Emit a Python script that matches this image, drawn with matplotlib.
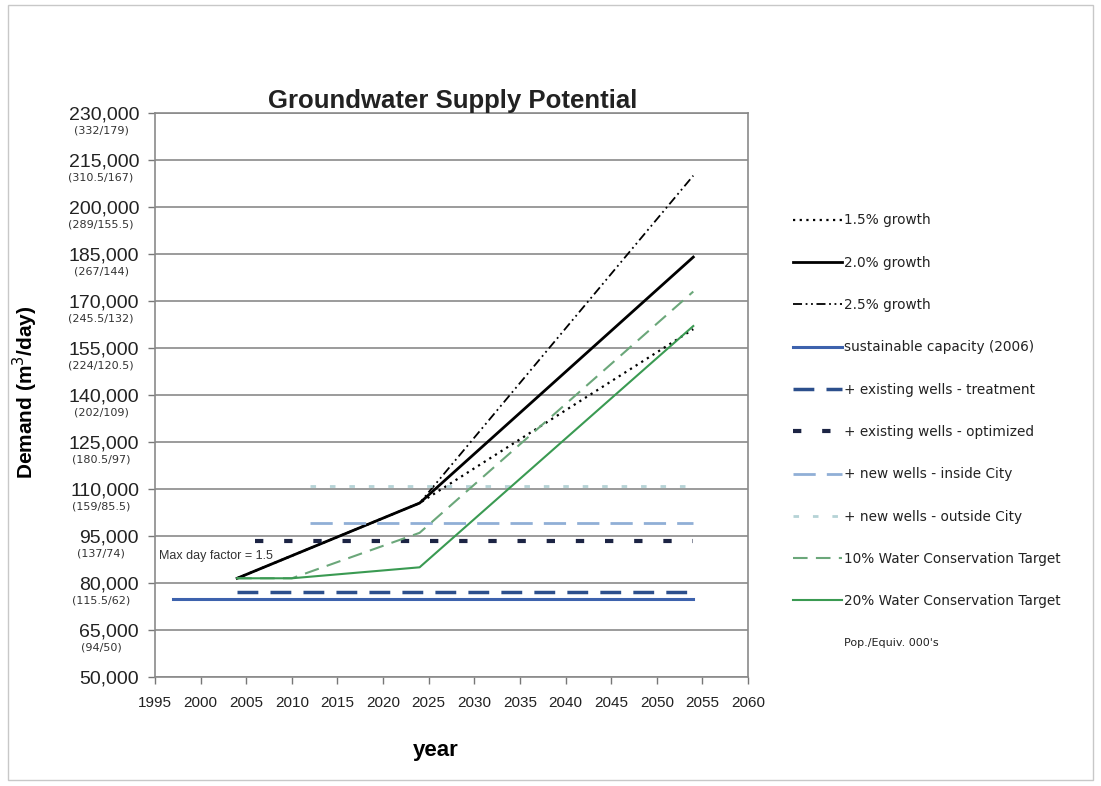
import matplotlib.pyplot as plt
from matplotlib.lines import Line2D
from matplotlib.patches import Rectangle

plt.rcParams['font.family'] = ['Liberation Sans', 'DejaVu Sans']

# growth scenarios (year, m3/day)
growth_years = [2004, 2024, 2054]
growth_15 = [81500, 105500, 161000]
growth_20 = [81500, 105500, 184000]
growth_25 = [81500, 105500, 210000]

# conservation targets
cons_years = [2004, 2010, 2024, 2054]
cons_10 = [81500, 81500, 96000, 173000]
cons_20 = [81500, 81500, 85000, 162000]

# supply levels: (start year, end year, m3/day)
sustainable = (1997, 2054, 75000)
wells_treatment = (2004, 2054, 77000)
wells_optimized = (2006, 2054, 93500)
wells_inside = (2012, 2054, 99000)
wells_outside = (2012, 2054, 111000)

y_ticks = [50000, 65000, 80000, 95000, 110000, 125000, 140000, 155000,
           170000, 185000, 200000, 215000, 230000]
pop_labels = ['', '(94/50)', '(115.5/62)', '(137/74)', '(159/85.5)', '(180.5/97)',
              '(202/109)', '(224/120.5)', '(245.5/132)', '(267/144)',
              '(289/155.5)', '(310.5/167)', '(332/179)']
x_ticks = list(range(1995, 2061, 5))

fig = plt.figure(figsize=(11.01, 7.86), dpi=100)
ax = fig.add_axes([0.1408, 0.1387, 0.5386, 0.7176])

ax.plot(growth_years, growth_15, color='black', lw=1.6, ls=(0, (1, 2)), label='1.5% growth')
ax.plot(growth_years, growth_20, color='black', lw=2.0, ls='-', label='2.0% growth')
ax.plot(growth_years, growth_25, color='black', lw=1.3, ls=(0, (5, 2, 1, 2, 1, 2)), label='2.5% growth')

x0, x1, v = sustainable
ax.plot([x0, x1], [v, v], color='#3d62ad', lw=2.2, label='sustainable capacity (2006)')
x0, x1, v = wells_treatment
ax.plot([x0, x1], [v, v], color='#2c4f8c', lw=2.5, ls=(0, (6, 3.5)), label='+ existing wells - treatment')
x0, x1, v = wells_optimized
ax.plot([x0, x1], [v, v], color='#1c2444', lw=3, ls=(0, (2, 5)), label='+ existing wells - optimized')
x0, x1, v = wells_inside
ax.plot([x0, x1], [v, v], color='#90afd6', lw=2, ls=(0, (8, 4)), label='+ new wells - inside City')
x0, x1, v = wells_outside
ax.plot([x0, x1], [v, v], color='#b5d3d6', lw=2, ls=(0, (2, 5)), label='+ new wells - outside City')

ax.plot(cons_years, cons_10, color='#6ba77a', lw=1.5, ls=(0, (7, 4)), label='10% Water Conservation Target')
ax.plot(cons_years, cons_20, color='#3a9a52', lw=1.5, ls='-', label='20% Water Conservation Target')

ax.set_xlim(1995, 2060)
ax.set_ylim(50000, 230000)
ax.set_xticks(x_ticks)
ax.set_xticklabels([str(x) for x in x_ticks], fontsize=11)
ax.set_yticks(y_ticks)
ax.set_yticklabels([f'{y:,}' for y in y_ticks], fontsize=14)
ax.tick_params(axis='both', colors='#777777', labelcolor='#222222', length=5, width=1)
ax.tick_params(axis='y', pad=6.5)
ax.tick_params(axis='x', pad=9)
ax.grid(axis='y', color='#8a8a8a', lw=1.2)
ax.set_axisbelow(True)
for s in ax.spines.values():
    s.set_color('#8a8a8a')
    s.set_linewidth(1.2)

# population / equivalent labels under the y tick labels
for y, lab in zip(y_ticks, pop_labels):
    if lab:
        ax.text(-0.091, y - 5500, lab, transform=ax.get_yaxis_transform(),
                ha='center', va='center', fontsize=8, color='#333333',
                family='DejaVu Sans')

ax.text(1995.4, 88500, 'Max day factor = 1.5', fontsize=9, color='#333333', ha='left', va='center')

ax.set_xlabel('year', fontsize=16, fontweight='bold')
ax.xaxis.set_label_coords(0.474, -0.112)
ax.set_ylabel('Demand (m$^3$/day)', fontsize=15, fontweight='bold')
ax.yaxis.set_label_coords(-0.194, 0.504)
fig.text(0.411, 0.871, 'Groundwater Supply Potential', fontsize=18.5, fontweight='bold',
         ha='center', va='center', color='#222222')

handles, labels = ax.get_legend_handles_labels()
handles.append(Line2D([], [], color='none'))
labels.append("Pop./Equiv. 000's")
leg = fig.legend(handles, labels, loc='center left', bbox_to_anchor=(0.7139, 0.452),
                 frameon=False, handlelength=3.6, handletextpad=0.15,
                 labelspacing=2.08, borderpad=0,
                 prop={'family': 'DejaVu Sans', 'size': 9.8})
for t in leg.get_texts():
    t.set_color('#222222')
leg.get_texts()[-1].set_fontsize(8)

fig.patches.append(Rectangle((0.0073, 0.0076), 0.9855, 0.986, transform=fig.transFigure,
                             fill=False, edgecolor='#c8c8c8', lw=1))

fig.savefig('out.png', dpi=100)
